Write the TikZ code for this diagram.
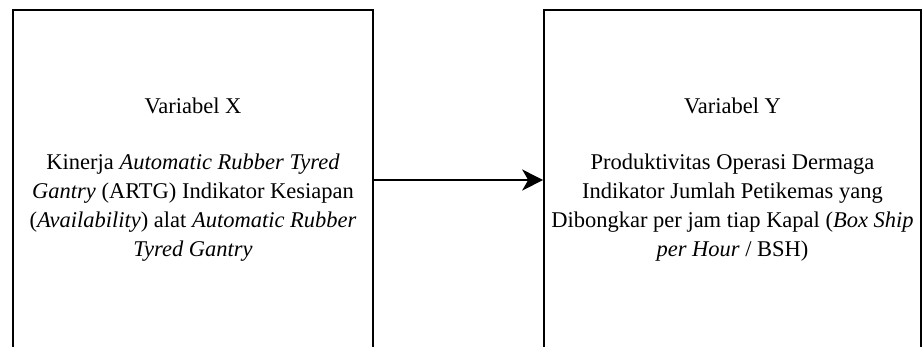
\documentclass[tikz,border=0pt]{standalone}
\usepackage{fontspec}
\setmainfont{Liberation Serif}
\usetikzlibrary{arrows.meta}
\begin{document}
\begin{tikzpicture}[x=1pt,y=1pt,
  varbox/.style={draw=black, line width=1.6pt, inner sep=0pt, minimum height=340pt,
    align=center, font=\fontsize{22.5}{29}\selectfont},
  conn/.style={line width=1.6pt, -{Stealth[length=21pt,width=21pt,inset=6pt]}}]
\useasboundingbox (0,0) rectangle (922,-346);
\node[varbox, minimum width=360pt] (x) at (193,-180)
  {Variabel X\\[27pt]
   Kinerja \textit{Automatic Rubber Tyred}\\
   \textit{Gantry} (ARTG) Indikator Kesiapan\\
   (\textit{Availability}) alat \textit{Automatic Rubber}\\
   \textit{Tyred Gantry}};
\node[varbox, minimum width=377pt] (y) at (732.5,-180)
  {Variabel Y\\[27pt]
   Produktivitas Operasi Dermaga\\
   Indikator Jumlah Petikemas yang\\
   Dibongkar per jam tiap Kapal (\textit{Box Ship}\\
   \textit{per Hour} / BSH)};
\draw[conn] (x.east) -- (y.west);
\end{tikzpicture}
\end{document}
